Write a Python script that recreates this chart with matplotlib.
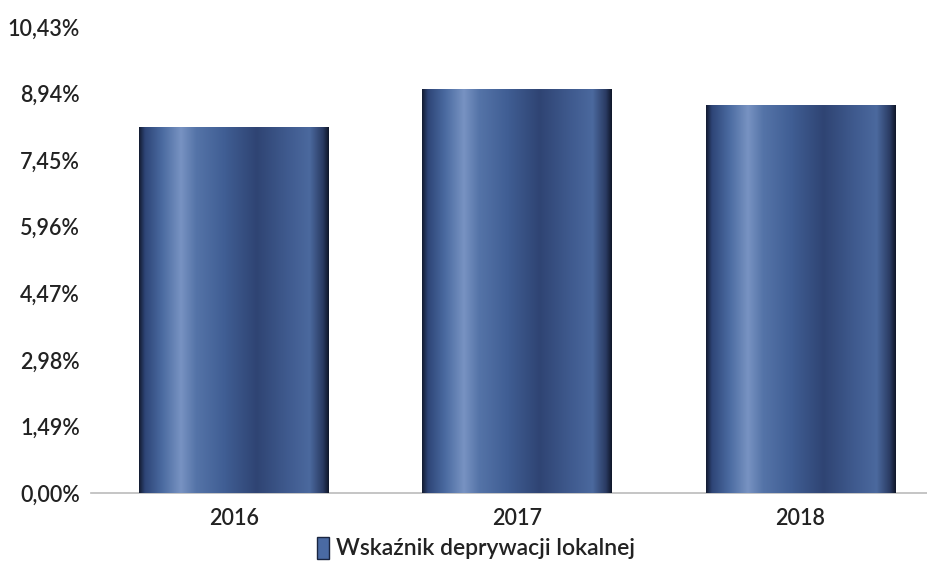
import numpy as np
import matplotlib
matplotlib.use("Agg")
import matplotlib.pyplot as plt
from matplotlib.colors import LinearSegmentedColormap
from matplotlib.patches import Patch

plt.rcParams['font.family'] = ['Lato', 'DejaVu Sans']

categories = ['2016', '2017', '2018']
values = [8.20, 9.05, 8.69]
series_name = 'Wskaźnik deprywacji lokalnej'
yticks = [0.0, 1.49, 2.98, 4.47, 5.96, 7.45, 8.94, 10.43]
ytick_labels = ['0,00%', '1,49%', '2,98%', '4,47%', '5,96%', '7,45%', '8,94%', '10,43%']

fig = plt.figure(figsize=(9.28, 5.72), dpi=100)
ax = fig.add_axes([0.098, 0.138, 0.902, 0.815])

x = np.arange(len(categories))
bars = ax.bar(x, values, width=0.67, color='#3f5b90', edgecolor='none', zorder=2)

cmap = LinearSegmentedColormap.from_list('bar', [
    (0.0, '#141d33'), (0.03, '#2e4577'), (0.12, '#4a6aa0'), (0.22, '#7893c2'),
    (0.30, '#5574a8'), (0.45, '#405e94'), (0.62, '#2f4473'), (0.78, '#3f5a8e'),
    (0.90, '#4b699e'), (0.97, '#2a3b63'), (1.0, '#10172a')])
grad = np.linspace(0, 1, 256).reshape(1, -1)
for b in bars:
    x0, w, h = b.get_x(), b.get_width(), b.get_height()
    im = ax.imshow(grad, cmap=cmap, aspect='auto', extent=[x0, x0 + w, 0, h],
                   zorder=3, interpolation='bilinear')
    im.set_clip_path(b)

ax.set_xlim(-0.505, 2.45)
ax.set_ylim(0, 10.43)
ax.set_yticks(yticks)
ax.set_yticklabels(ytick_labels, fontsize=15.5, color='#222222', fontweight='semibold')
ax.set_xticks(x)
ax.set_xticklabels(categories, fontsize=15.5, color='#222222', fontweight='semibold')
ax.tick_params(axis='x', length=0, pad=11)
ax.tick_params(axis='y', length=0, pad=8)
for s in ['top', 'right', 'left']:
    ax.spines[s].set_visible(False)
ax.spines['bottom'].set_color('#bbbbbb')
ax.spines['bottom'].set_linewidth(1.2)

handle = Patch(facecolor='#4a6aa3', edgecolor='#1a2540')
fig.legend([handle], [series_name], loc='center', bbox_to_anchor=(0.513, 0.042),
           frameon=False, handlelength=0.55, handleheight=1.1,
           handletextpad=0.3, labelcolor='#222222',
           prop={'family': ['Lato', 'DejaVu Sans'], 'size': 16.5, 'weight': 'semibold'})

fig.savefig('out.png', dpi=100, facecolor='white')
